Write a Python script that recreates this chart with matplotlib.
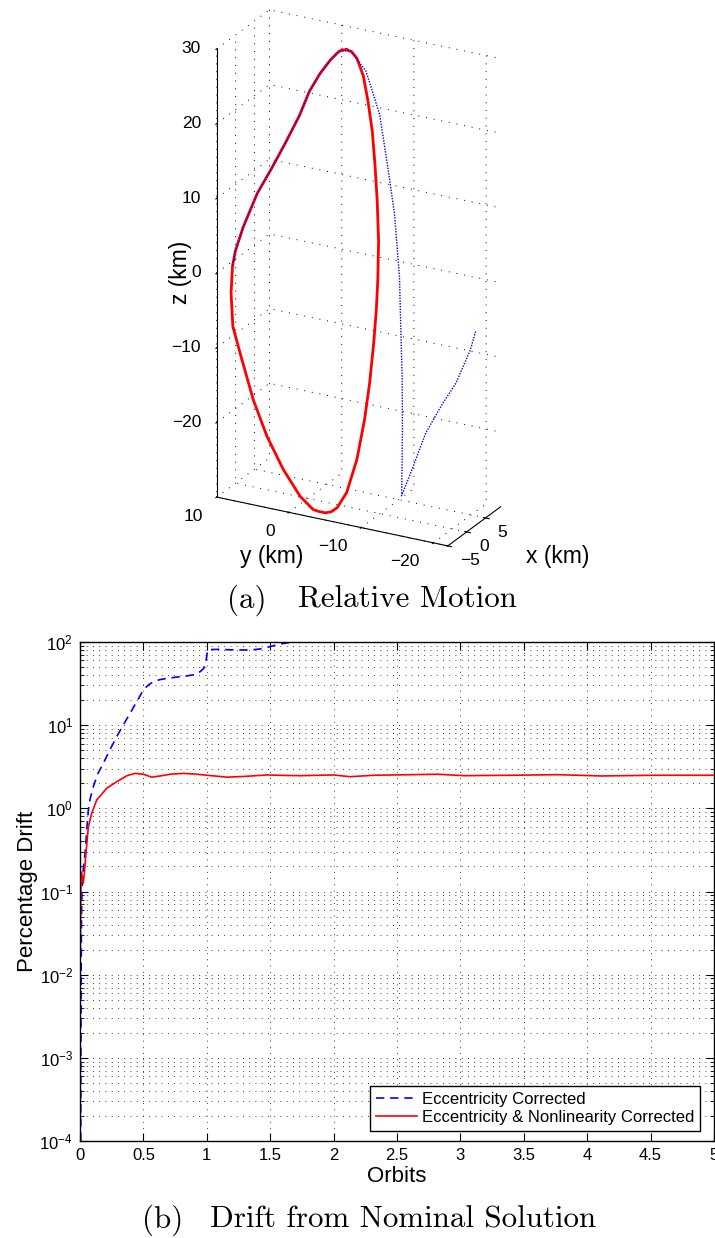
import numpy as np
import matplotlib
matplotlib.use('Agg')
import matplotlib.pyplot as plt
from matplotlib.ticker import LogLocator, NullFormatter, FixedLocator, FixedFormatter
from mpl_toolkits.mplot3d import proj3d

plt.rcParams['font.family'] = ['Liberation Sans', 'DejaVu Sans']
plt.rcParams['mathtext.fontset'] = 'custom'
plt.rcParams['mathtext.rm'] = 'Liberation Sans'
plt.rcParams['mathtext.it'] = 'Liberation Sans:italic'
plt.rcParams['mathtext.bf'] = 'Liberation Sans:bold'
plt.rcParams['grid.linestyle'] = ':'
plt.rcParams['grid.color'] = 'k'
plt.rcParams['grid.linewidth'] = 0.6

# ---- (a) relative motion, km ----
red_x = [2.4, 2.4, 2.3, 2.1, 1.8, 1.4, 1.0, 0.6, 0.2, -0.2, -0.6, -0.9, -1.4, -1.8, -2.3, -2.7, -2.9, -3.0, -3.0,
         -3.0, -3.0, -2.8, -2.5, -2.2, -1.8, -1.4, -1.1, -1.2, -1.0, -0.8, -0.5, 0.0, 0.4, 0.8, 1.2, 1.6, 1.9,
         2.2, 2.3, 2.35, 2.4]
red_y = [-4.1, -4.8, -5.6, -6.6, -7.4, -8.2, -8.8, -9.3, -9.7, -9.8, -9.8, -9.6, -9.3, -8.8, -8.0, -6.8, -5.6, -4.8,
         -4.0, -3.1, -2.3, -0.4, 2.1, 4.5, 6.6, 8.4, 9.8, 10.0, 9.9, 9.6, 8.7, 7.0, 5.2, 3.6, 1.8, 0.6, -0.7,
         -2.0, -3.1, -3.6, -4.1]
red_z = [30.0, 29.9, 29.2, 27.1, 24.0, 20.3, 15.9, 11.5, 6.4, 1.3, -2.6, -6.9, -12.1, -17.0, -22.3, -26.8, -29.0,
         -29.7, -30.0, -30.0, -29.9, -28.6, -25.6, -21.8, -17.5, -12.6, -8.6, -4.1, -0.5, 1.5, 4.7, 9.4, 13.0,
         16.4, 20.4, 23.8, 26.3, 28.3, 29.6, 29.9, 30.0]

blue_x = [-1.0, -0.8, -0.5, 0.0, 0.4, 0.8, 1.2, 1.6, 1.9, 2.2, 2.3, 2.4, 2.2, 1.8, 1.2, 0.6, 0.0, -0.6, -1.2,
          -1.9, -2.4, -2.7, -2.5, -2.0, -1.5, -0.5, 0.8, 1.5]
blue_y = [9.9, 9.6, 8.7, 7.0, 5.2, 3.6, 1.8, 0.6, -0.7, -2.0, -3.1, -4.6, -6.9, -9.0, -10.4, -11.7, -12.7, -13.2,
          -13.7, -14.1, -14.3, -14.4, -15.4, -17.4, -19.5, -20.8, -22.1, -22.5]
blue_z = [-0.5, 1.5, 4.7, 9.4, 13.0, 16.4, 20.4, 23.8, 26.3, 28.3, 29.6, 30.0, 27.8, 22.6, 16.4, 10.2, 2.2, -4.5,
          -10.9, -17.2, -22.3, -25.7, -22.9, -16.9, -12.7, -10.1, -5.9, -3.5]

x_ticks3 = [-5, 0, 5]
y_ticks3 = [-20, -10, 0, 10]
z_ticks3 = [-20, -10, 0, 10, 20, 30]

# ---- (b) drift from nominal solution ----
ecc_orbits = [0.006, 0.007, 0.009, 0.012, 0.016, 0.025, 0.04, 0.055, 0.066, 0.08, 0.105, 0.14, 0.184, 0.24, 0.29,
              0.34, 0.395, 0.45, 0.5, 0.54, 0.58, 0.63, 0.685, 0.76, 0.84, 0.9, 0.948, 0.975, 0.995, 1.006, 1.03,
              1.08, 1.2, 1.343, 1.42, 1.475, 1.53, 1.58, 1.66, 1.72]
ecc_drift = [1e-4, 1e-3, 0.01, 0.05, 0.11, 0.18, 0.29, 0.6, 0.95, 1.3, 1.82, 2.6, 3.48, 5.2, 7.3,
             10.0, 13.9, 19.5, 26.5, 30.5, 33.3, 35.3, 36.5, 37.8, 39.0, 40.5, 44.0, 48.0, 60.0, 80.0, 81.0,
             81.6, 80.5, 80.0, 82.5, 86.3, 90.5, 94.6, 99.2, 103.0]

nl_orbits = [0.0, 0.004, 0.008, 0.012, 0.018, 0.026, 0.035, 0.047, 0.066, 0.092, 0.132, 0.21, 0.29, 0.37, 0.434,
             0.5, 0.566, 0.632, 0.72, 0.816, 0.91, 1.0, 1.16, 1.3, 1.475, 1.6, 1.74, 2.0, 2.13, 2.32, 2.55, 2.82,
             3.03, 3.42, 3.77, 4.11, 4.55, 5.0]
nl_drift = [0.008, 0.04, 0.16, 0.17, 0.15, 0.126, 0.17, 0.29, 0.6, 0.87, 1.26, 1.74, 2.09, 2.47, 2.63,
            2.57, 2.37, 2.45, 2.58, 2.63, 2.58, 2.5, 2.37, 2.42, 2.52, 2.49, 2.47, 2.52, 2.4, 2.5, 2.53, 2.57,
            2.47, 2.5, 2.54, 2.45, 2.5, 2.5]

orbit_ticks = [0, 0.5, 1, 1.5, 2, 2.5, 3, 3.5, 4, 4.5, 5]
orbit_labels = ['0', '0.5', '1', '1.5', '2', '2.5', '3', '3.5', '4', '4.5', '5']


def tick_text(v):
    return str(v).replace('-', '\u2212')


W, H = 715, 1238
fig = plt.figure(figsize=(W / 100, H / 100), dpi=100)

# 3D axes: square panel, sized so the box matches the picture
S = 573.8
ax3 = fig.add_axes([64.0 / W, 1 - (S - 1.3) / H, S / W, S / H], projection='3d')
ax3.set_proj_type('ortho')
ax3.view_init(elev=23.3, azim=-151.9)
ax3.set_box_aspect((112.5, 263, 490), zoom=0.956)
ax3.plot(red_x, red_y, red_z, color='red', lw=2.0)
ax3.plot(blue_x, blue_y, blue_z, color='blue', lw=1.0, ls=(0, (1, 1.0)))
ax3.set_xlim(-5, 9)
ax3.set_ylim(-22, 10)
ax3.set_zlim(-30, 30)
ax3.set_xticks(x_ticks3)
ax3.set_yticks(y_ticks3)
ax3.set_zticks(z_ticks3)
for axis in (ax3.xaxis, ax3.yaxis, ax3.zaxis):
    axis.set_major_formatter(NullFormatter())
    axis.set_tick_params(labelbottom=False)
    axis.set_pane_color((1, 1, 1, 0))
    axis.pane.set_edgecolor((1, 1, 1, 0))
    axis._axinfo['grid'].update(color='k', linewidth=0.7, linestyle=(0, (1, 7)))
    axis.line.set_color('k')
ax3.patch.set_alpha(0)

# tick labels: project a point just outside each axis line into the 2D view
fig.canvas.draw()
M = ax3.get_proj()


def label3d(x, y, z, s, **kw):
    px, py, _ = proj3d.proj_transform(x, y, z, M)
    ax3.text2D(px, py, s, transform=ax3.transData, fontsize=12.5, va='center', **kw)


for t in x_ticks3:
    label3d(t, -23.7, -31.6, tick_text(t), ha='left')
for t in y_ticks3:
    label3d(-8.6, t, -31.2, tick_text(t), ha='right')
for t in z_ticks3:
    label3d(-5.9, 11.7, t, tick_text(t), ha='right')

fig.text(180 / W, 1 - 272 / H, 'z (km)', fontsize=16.5, rotation=90, ha='center', va='center')
fig.text(271.5 / W, 1 - 556 / H, 'y (km)', fontsize=16.5, ha='center', va='center')
fig.text(557.5 / W, 1 - 557 / H, 'x (km)', fontsize=16.5, ha='center', va='center')

# 2D log axes
ax = fig.add_axes([80 / W, 97 / H, 634 / W, 499 / H])
ax.semilogy(ecc_orbits, ecc_drift, color='blue', lw=1.2, ls=(0, (5, 3.5)), label='Eccentricity Corrected')
ax.semilogy(nl_orbits, nl_drift, color='red', lw=1.2, label='Eccentricity & Nonlinearity Corrected')
ax.set_xlim(0, 5)
ax.set_ylim(1e-4, 1e2)
ax.xaxis.set_major_locator(FixedLocator(orbit_ticks))
ax.xaxis.set_major_formatter(FixedFormatter(orbit_labels))
ax.yaxis.set_major_locator(LogLocator(base=10, numticks=10))
ax.yaxis.set_minor_locator(LogLocator(base=10, subs=np.arange(2, 10), numticks=100))
ax.yaxis.set_minor_formatter(NullFormatter())
ax.grid(True, which='major', axis='both', color='k', lw=0.6, ls=(0, (1, 6.5)))
ax.grid(True, which='minor', axis='y', color='k', lw=0.6, ls=(0, (1, 6.5)))
ax.tick_params(which='both', direction='in', top=True, right=True, labelsize=12)
ax.tick_params(which='major', length=6, pad=5)
ax.tick_params(which='minor', length=3)
for sp in ax.spines.values():
    sp.set_linewidth(1.0)
ax.set_xlabel('Orbits', fontsize=16)
ax.set_ylabel('Percentage Drift', fontsize=16)
ax.xaxis.set_label_coords(0.5, -0.05)
ax.yaxis.set_label_coords(-0.066, 0.5)
leg = ax.legend(loc='lower right', bbox_to_anchor=(0.978, 0.02), borderaxespad=0, fontsize=12,
                handlelength=2.45, handletextpad=0.3, labelspacing=0.2, borderpad=0.35,
                fancybox=False, framealpha=1, edgecolor='k')
leg.get_frame().set_linewidth(1.0)

# captions
cap = dict(fontsize=22.3, family='cmr10', ha='left', va='center')
fig.text(227 / W, 1 - 600 / H, '(a)', **cap)
fig.text(298 / W, 1 - 600 / H, 'Relative Motion', **cap)
fig.text(142 / W, 1 - 1220 / H, '(b)', **cap)
fig.text(210 / W, 1 - 1220 / H, 'Drift from Nominal Solution', **cap)

fig.savefig('out.png', dpi=100)
